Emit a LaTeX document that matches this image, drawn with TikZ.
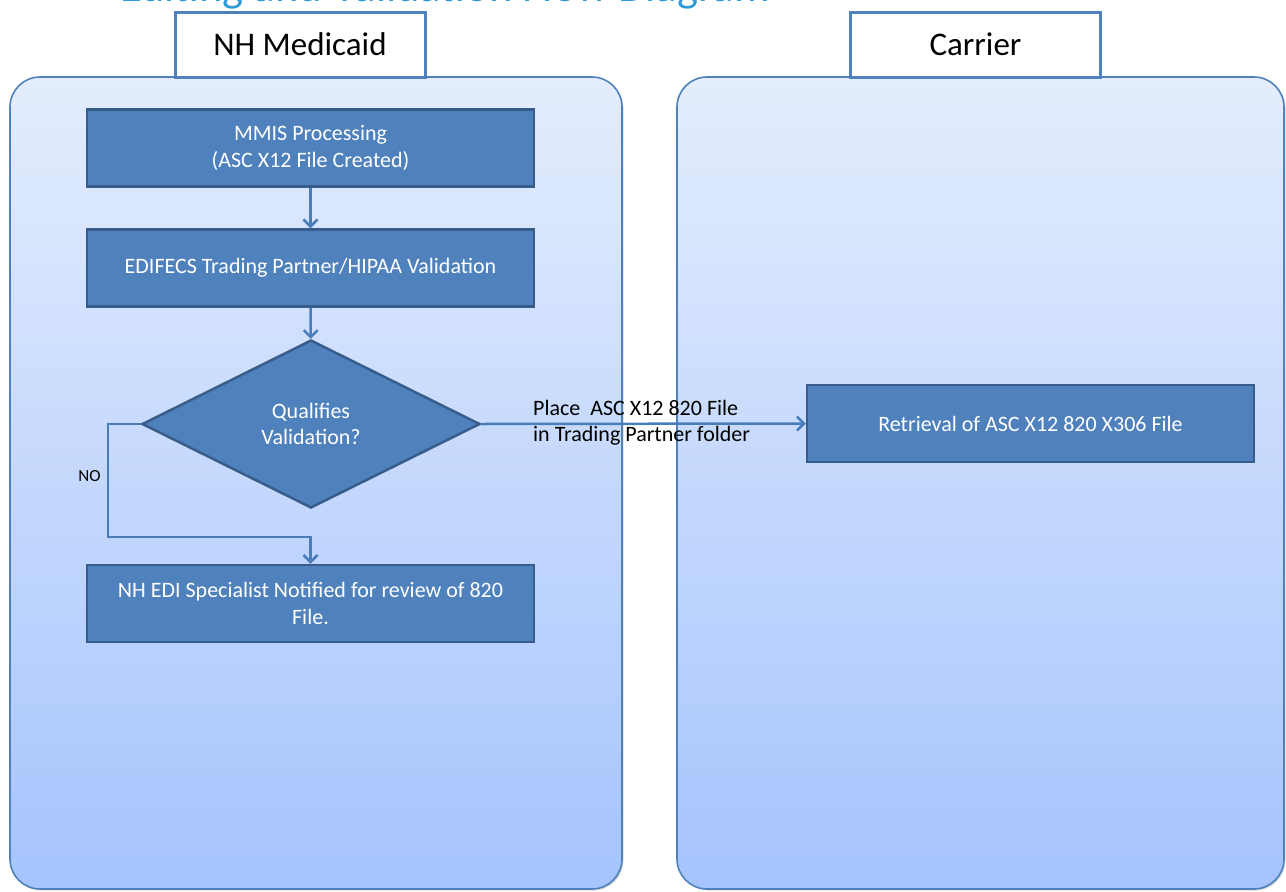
\documentclass[tikz,border=0pt]{standalone}
\usepackage{fontspec}
\setmainfont{Carlito}
\usepackage{tikz}
\usetikzlibrary{positioning,shapes.geometric,arrows.meta,shadows}
\definecolor{laneedge}{RGB}{79,129,189}
\definecolor{lanetop}{RGB}{228,237,253}
\definecolor{lanebot}{RGB}{165,196,253}
\definecolor{boxfill}{RGB}{79,129,189}
\definecolor{boxedge}{RGB}{56,93,138}
\definecolor{flowblue}{RGB}{74,126,187}
\definecolor{titleblue}{RGB}{45,154,218}

\begin{document}
\begin{tikzpicture}[x=1pt,y=-1pt]
  \newcommand{\bw}{447};
  \newcommand{\bh}{77};
  \useasboundingbox (0,0) rectangle (1286,892);
  \clip (0,0) rectangle (1286,892);
  \tikzstyle{lane}=[rounded corners=30pt, draw=laneedge, line width=1.6pt, top color=lanetop, bottom color=lanebot,
    drop shadow={opacity=0.3, shadow xshift=1.5pt, shadow yshift=-1.5pt}]
  \tikzstyle{header}=[draw=laneedge, line width=3pt, fill=white, minimum width=250, minimum height=65,
    font=\fontsize{33}{39}\selectfont]
  \tikzstyle{procbox}=[draw=boxedge, line width=2.5pt, fill=boxfill, text=white, align=center,
    minimum width=\bw, minimum height=\bh, font=\fontsize{22}{26.5}\selectfont]
  \tikzstyle{flow}=[draw=flowblue, line width=2.5pt, -{Straight Barb[length=7pt,width=14pt]}]
  % title, only its lower part shows
  \node[anchor=base west, text=titleblue, font=\fontsize{44.5}{52}\selectfont, inner sep=0] (title) at (120,1)
    {Editing and Validation Flow Diagram};
  % lanes and their headers
  \path[lane] (10,77) rectangle (622,889);
  \path[lane] (677,77) rectangle (1284,889);
  \foreach \n/\x/\t in {hMed/300/NH Medicaid,hCar/975.5/Carrier}{
    \node[header] (\n) at (\x,44.5) {\t};
  }
  % process steps
  \node[procbox] (mmis) at (310.5,148) {MMIS Processing\\(ASC X12 File Created)};
  \node[procbox] (edifecs) at (310.5,268) {EDIFECS Trading Partner/HIPAA Validation};
  \node[diamond, draw=boxedge, line width=2.5pt, fill=boxfill, text=white, align=center,
    minimum width=338, minimum height=168, inner sep=0, font=\fontsize{22}{26.5}\selectfont]
    (qual) at (311,424) {Qualifies\\Validation?};
  \node[procbox] (notify) at (310.5,603.5) {NH EDI Specialist Notified for review of 820\\File.};
  \node[procbox] (retr) at (1030.5,423.5) {Retrieval of ASC X12 820 X306 File};
  % connectors
  \draw[flow] (mmis) -- (edifecs);
  \draw[flow] (edifecs) -- (qual);
  \coordinate (noBend) at (108,537);
  \draw[flow] (qual.west) -| (noBend) -- (noBend -| notify.north) -- (notify.north);
  \draw[flow] (qual.east) -- (retr.west);
  \node[font=\fontsize{17}{20}\selectfont] (noLbl) at (89.5,476) {NO};
  \node[anchor=west, align=left, inner sep=0, font=\fontsize{22}{26}\selectfont] (placeLbl) at (533,423)
    {Place\ \ ASC X12 820 File\\in Trading Partner folder};
\end{tikzpicture}
\end{document}
